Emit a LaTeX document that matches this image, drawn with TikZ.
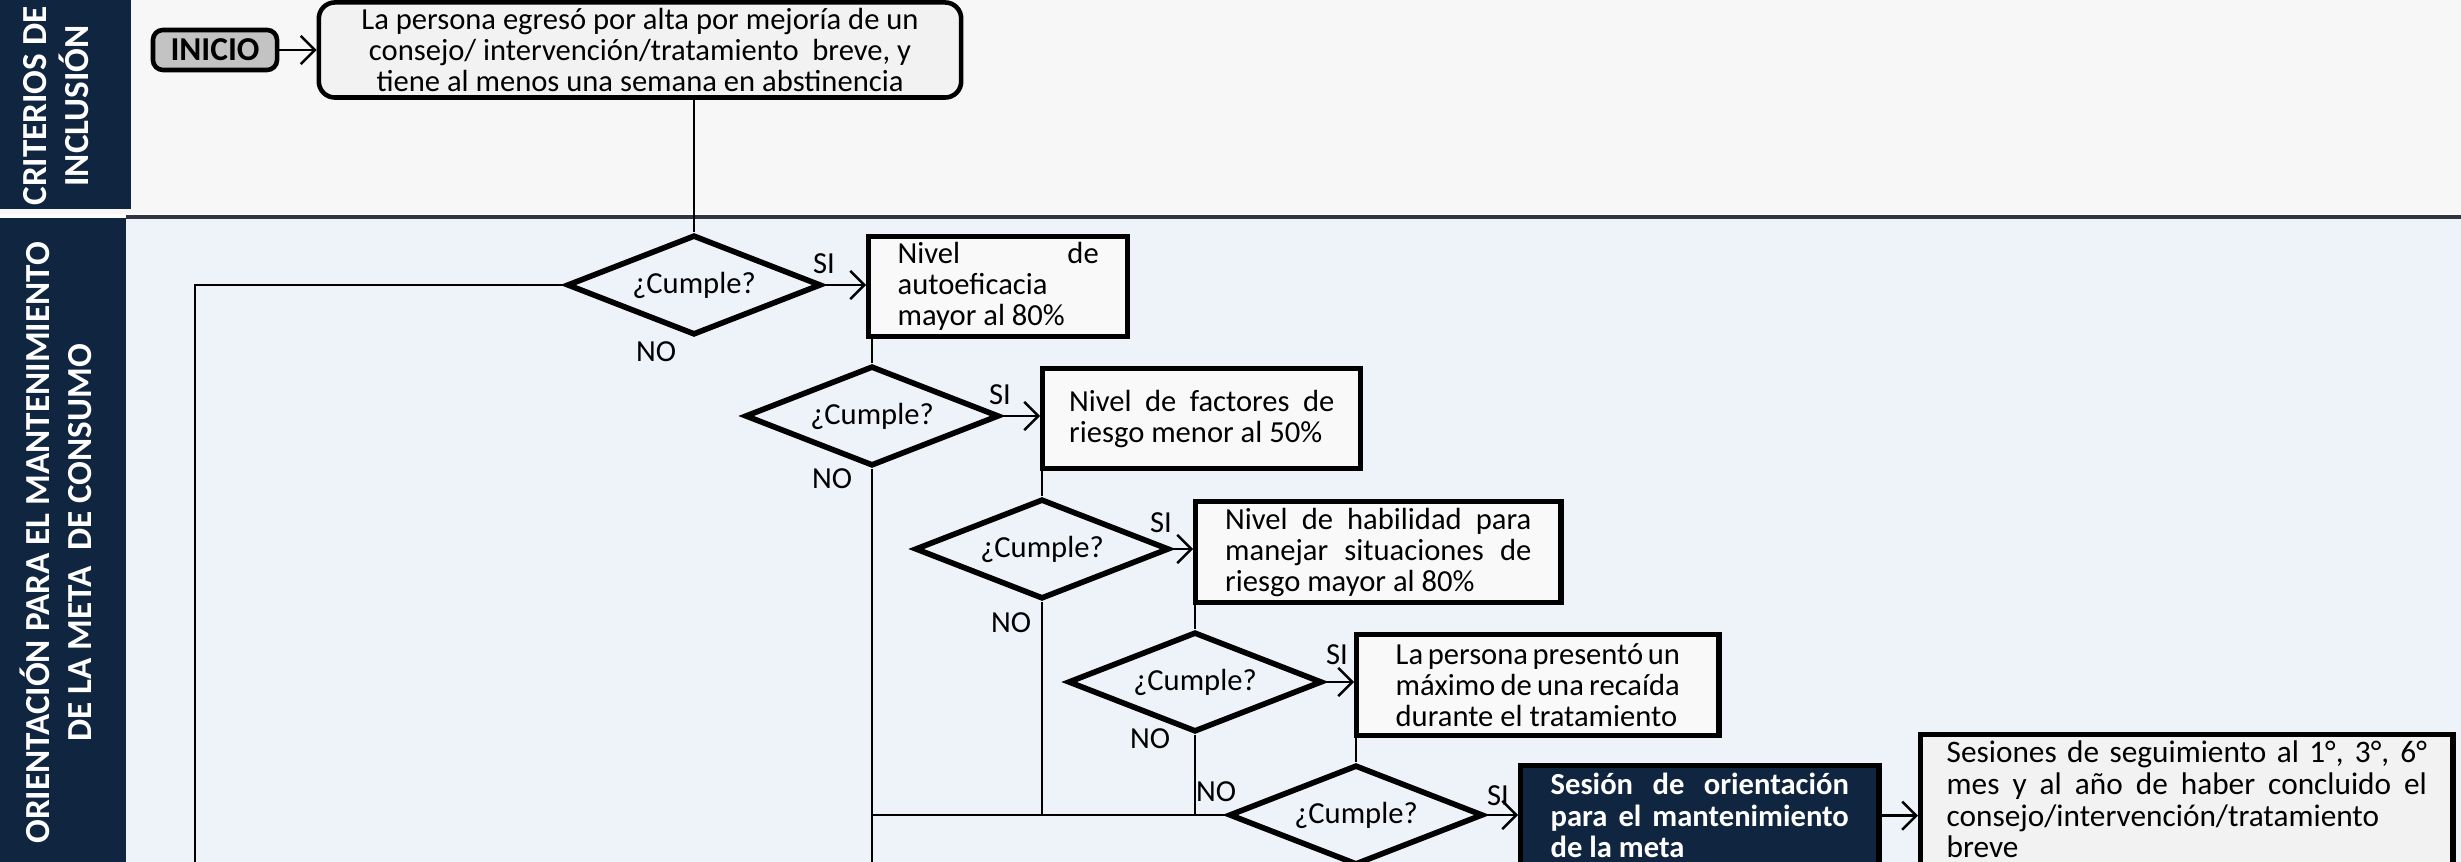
\documentclass[tikz,border=0pt]{standalone}
\usepackage{fontspec}
\setmainfont{Carlito}
\usetikzlibrary{shapes.geometric,arrows.meta,calc}

\definecolor{navy}{HTML}{10253F}
\definecolor{lanetop}{HTML}{F7F7F7}
\definecolor{lanelow}{HTML}{EEF2F9}
\definecolor{sepline}{HTML}{2E3440}
\definecolor{iniciofill}{HTML}{C3C3C3}
\definecolor{boxfill}{HTML}{F9F9F9}
\definecolor{topfill}{HTML}{F2F2F2}

% one justified line of a given width
\newcommand{\jline}[2]{\makebox[#1][s]{#2}}

\begin{document}
\begin{tikzpicture}[x=0.01cm,y=-0.01cm,
  every node/.style={font=\fontsize{8.7}{8.8}\selectfont, inner sep=0pt},
  lanetitle/.style={rotate=90, text=white, align=center,
    font=\fontsize{10}{11.8}\selectfont\bfseries},
  flowbox/.style={draw=black, line width=1.5pt, fill=boxfill,
    anchor=north west, align=left},
  decision/.style={diamond, shape aspect=2.54, draw=black, line width=1.6pt,
    fill=lanelow, minimum width=2.54cm, minimum height=1cm, inner sep=0pt},
  link/.style={line width=0.7pt, draw=black},
  arrowlink/.style={link, -{Straight Barb[length=4pt,width=8pt]}},
  answer/.style={font=\fontsize{8.7}{8.8}\selectfont}
]
\useasboundingbox (0,0) rectangle (2461,862);
\clip (0,0) rectangle (2461,862);

% swimlane backgrounds
\fill[lanetop] (0,0) rectangle (2461,214);
\fill[lanelow] (0,218) rectangle (2461,862);
\fill[navy] (0,0) rectangle (131,209);
\fill[navy] (0,218) rectangle (126,862);
\draw[sepline, line width=1.1pt] (126,217) -- (2461,217);

% lane titles
\node[lanetitle] (laneA) at (56,106) {CRITERIOS DE\\INCLUSIÓN};
\node[lanetitle] (laneB) at (56,543) {ORIENTACIÓN PARA EL MANTENIMIENTO\\DE LA META\ \ DE CONSUMO};

% start and inclusion criterion
\node[draw=black, line width=1.3pt, fill=iniciofill, rounded corners=0.1cm,
  minimum width=1.24cm, minimum height=0.40cm,
  font=\fontsize{9.5}{10}\selectfont\bfseries] (inicio) at (215,50) {INICIO};
\node[draw=black, line width=1.3pt, fill=topfill, rounded corners=0.16cm,
  minimum width=6.42cm, minimum height=0.95cm,
  font=\fontsize{8.7}{8.8}\selectfont] (top) at (640,50)
  {\raisebox{-3.4pt}[0pt][0pt]{\begin{tabular}{@{}c@{}}
     La persona egresó por alta por mejoría de un\\
     consejo/ intervención/tratamiento\ \ breve, y\\
     tiene al menos una semana en abstinencia
   \end{tabular}}};

% decisions
\node[decision] (d1) at (694,285) {¿Cumple?};
\node[decision] (d2) at (872,416) {¿Cumple?};
\node[decision] (d3) at (1042,549) {¿Cumple?};
\node[decision] (d4) at (1195,682) {¿Cumple?};
\node[decision] (d5) at (1356,815) {¿Cumple?};

% criteria boxes
\node[flowbox, minimum width=2.59cm, minimum height=1.00cm]
  (b1) at (866,234)
  {\jline{2.01cm}{Nivel de}\\autoeficacia\\mayor al 80\%};
\node[flowbox, minimum width=3.18cm, minimum height=1.00cm]
  (b2) at (1040,366)
  {\jline{2.65cm}{Nivel de factores de}\\riesgo menor al 50\%};
\node[flowbox, minimum width=3.65cm, minimum height=1.01cm]
  (b3) at (1193,499)
  {\jline{3.06cm}{Nivel de habilidad para}\\\jline{3.06cm}{manejar situaciones de}\\riesgo mayor al 80\%};
\node[flowbox, minimum width=3.62cm, minimum height=1.01cm]
  (b4) at (1354,632)
  {\jline{2.84cm}{La persona presentó un}\\\jline{2.84cm}{máximo de una recaída}\\durante el tratamiento};

% outcome boxes
\node[flowbox, fill=navy, draw=black, text=white, minimum width=3.58cm,
  minimum height=1.00cm, font=\fontsize{8.7}{9.0}\selectfont\bfseries]
  (b5) at (1518,763)
  {\jline{2.98cm}{Sesión de orientación}\\\jline{2.98cm}{para el mantenimiento}\\de la meta};
\node[flowbox, fill=topfill, minimum width=5.32cm, minimum height=1.30cm,
  font=\fontsize{8.9}{9.0}\selectfont]
  (b6) at (1918,732)
  {\jline{4.80cm}{Sesiones de seguimiento al 1°, 3°, 6°}\\\jline{4.80cm}{mes y al año de haber concluido el}\\consejo/intervención/tratamiento\\breve};

% answer labels
\node[answer] (si1) at (824,264) {SI};
\node[answer] (no1) at (656,352) {NO};
\node[answer] (si2) at (1000,395) {SI};
\node[answer] (no2) at (832,479) {NO};
\node[answer] (si3) at (1161,523) {SI};
\node[answer] (no3) at (1011,623) {NO};
\node[answer] (si4) at (1337,655) {SI};
\node[answer] (no4) at (1150,739) {NO};
\node[answer] (no5) at (1216,792) {NO};
\node[answer] (si5) at (1498,796) {SI};

% loose ends leaving the lower edge
\coordinate (exitA) at (195,870);
\coordinate (exitB) at (872,870);

% connectors
\draw[arrowlink] (inicio.east) -- (inicio.east -| top.west);
\draw[link] (top.south -| d1.north) -- (d1.north);
\draw[arrowlink] (d1.east) -- (d1.east -| b1.west);
\draw[link] (d1.west) -| (exitA);
\draw[link] (b1.south -| d2.north) -- (d2.north);
\draw[arrowlink] (d2.east) -- (d2.east -| b2.west);
\draw[link] (d2.south) -- (exitB);
\draw[link] (b2.south -| d3.north) -- (d3.north);
\draw[arrowlink] (d3.east) -- (d3.east -| b3.west);
\draw[link] (d3.south) -- (d3.south |- d5.west);
\draw[link] (b3.south -| d4.north) -- (d4.north);
\draw[arrowlink] (d4.east) -- (d4.east -| b4.west);
\draw[link] (d4.south) -- (d4.south |- d5.west);
\draw[link] (b4.south -| d5.north) -- (d5.north);
\draw[link] (d2.south |- d5.west) -- (d5.west);
\draw[arrowlink] (d5.east) -- (d5.east -| b5.west);
\draw[arrowlink] (b5.east) -- (b5.east -| b6.west);
\end{tikzpicture}
\end{document}
